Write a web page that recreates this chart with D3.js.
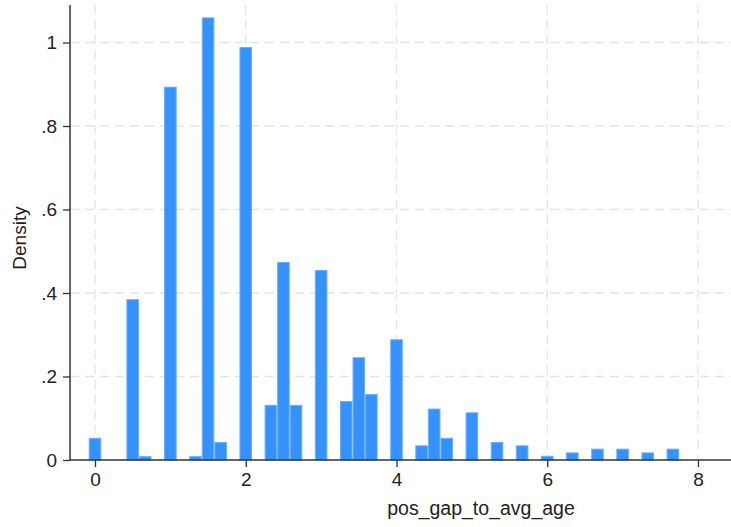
<!DOCTYPE html>
<html>
<head>
<meta charset="utf-8">
<script src="https://cdn.jsdelivr.net/npm/d3@7"></script>
<style>
  html, body { margin: 0; padding: 0; background: #fff; }
  svg { display: block; }
  text { font-family: "Liberation Sans", Arial, sans-serif; fill: #222; }
</style>
</head>
<body>
<svg id="chart" width="731" height="527"></svg>
<script>
// ---- data ----
const binCenters = [0, 0.5, 0.6667, 1, 1.3333, 1.5, 1.6667, 2, 2.3333, 2.5, 2.6667, 3,
  3.3333, 3.5, 3.6667, 4, 4.3333, 4.5, 4.6667, 5, 5.3333, 5.6667, 6, 6.3333, 6.6667,
  7, 7.3333, 7.6667];
const densities = [0.052, 0.384, 0.008, 0.893, 0.008, 1.059, 0.042, 0.988, 0.131, 0.473, 0.131, 0.454,
  0.140, 0.245, 0.157, 0.288, 0.034, 0.122, 0.052, 0.113, 0.042, 0.034, 0.009, 0.017, 0.026,
  0.026, 0.017, 0.026];
const binWidth = 1 / 6;
const xTicks = [0, 2, 4, 6, 8];
const xTickLabels = ["0", "2", "4", "6", "8"];
const yTicks = [0, 0.2, 0.4, 0.6, 0.8, 1];
const yTickLabels = ["0", ".2", ".4", ".6", ".8", "1"];
const xTitle = "pos_gap_to_avg_age";
const yTitle = "Density";

// ---- layout ----
const svg = d3.select("#chart");
const plotLeft = 70, plotRight = 731, plotTop = 5, plotBottom = 460;
const x = d3.scaleLinear().domain([0, 8]).range([95, 698]);
const y = d3.scaleLinear().domain([0, 1]).range([460, 42.5]);

// gridlines
const grid = svg.append("g");
grid.selectAll("line.h").data(yTicks.filter(d => d > 0)).join("line")
  .attr("x1", plotLeft).attr("x2", plotRight)
  .attr("y1", d => y(d)).attr("y2", d => y(d))
  .attr("stroke", "#e4e4e4").attr("stroke-width", 1.3).attr("stroke-dasharray", "9,6");
grid.selectAll("line.v").data(xTicks).join("line")
  .attr("x1", d => x(d)).attr("x2", d => x(d))
  .attr("y1", plotTop).attr("y2", plotBottom)
  .attr("stroke", "#e4e4e4").attr("stroke-width", 1.3).attr("stroke-dasharray", "9,6");

// bars
svg.append("g").selectAll("rect").data(binCenters).join("rect")
  .attr("x", d => x(d - binWidth / 2) + 0.5)
  .attr("width", d => x(d + binWidth / 2) - x(d - binWidth / 2) - 1)
  .attr("y", (d, i) => y(densities[i]))
  .attr("height", (d, i) => y(0) - y(densities[i]))
  .attr("fill", "#3592fc")
  .attr("stroke", "#6aaefd").attr("stroke-width", 1);

// x axis
const xAxis = d3.axisBottom(x).tickValues(xTicks)
  .tickFormat((d, i) => xTickLabels[i]).tickSize(7).tickPadding(6);
const gx = svg.append("g").attr("transform", `translate(0,${plotBottom})`).call(xAxis);
gx.select(".domain").remove();
gx.append("line").attr("x1", plotLeft).attr("x2", plotRight).attr("y1", 0).attr("y2", 0)
  .attr("stroke", "#333").attr("stroke-width", 1.5);
gx.selectAll(".tick line").attr("stroke", "#333").attr("stroke-width", 1.3);
gx.selectAll(".tick text").attr("font-size", 19).attr("fill", "#222")
  .attr("font-family", "Liberation Sans, Arial, sans-serif");

// y axis
const yAxis = d3.axisLeft(y).tickValues(yTicks)
  .tickFormat((d, i) => yTickLabels[i]).tickSize(7).tickPadding(6);
const gy = svg.append("g").attr("transform", `translate(${plotLeft},0)`).call(yAxis);
gy.select(".domain").remove();
gy.append("line").attr("x1", 0).attr("x2", 0).attr("y1", plotTop).attr("y2", plotBottom)
  .attr("stroke", "#333").attr("stroke-width", 1.5);
gy.selectAll(".tick line").attr("stroke", "#333").attr("stroke-width", 1.3);
gy.selectAll(".tick text").attr("font-size", 19).attr("fill", "#222")
  .attr("font-family", "Liberation Sans, Arial, sans-serif");

// titles
svg.append("text").attr("x", 481).attr("y", 515).attr("text-anchor", "middle")
  .attr("font-size", 19.5).text(xTitle);
svg.append("text").attr("transform", "translate(26,238) rotate(-90)")
  .attr("text-anchor", "middle").attr("font-size", 19).text(yTitle);
</script>
</body>
</html>
